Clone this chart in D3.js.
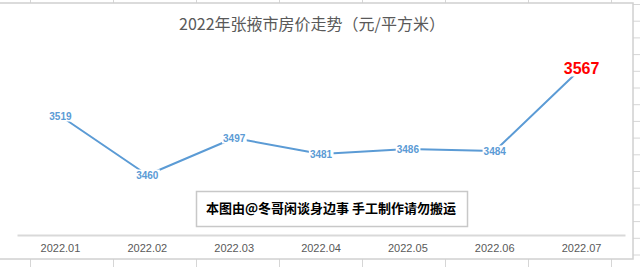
<!DOCTYPE html>
<html>
  <head>
    <title></title>
    <meta charset="UTF-8" />
    <script src="https://cdn.jsdelivr.net/npm/d3@7"></script>
    <style>
      body { margin: 0; background: #fff; }
      svg { display: block; }
    </style>
  </head>
  <body>
    <svg></svg>
    <script>
      // 数据
      const title = '2022年张掖市房价走势（元/平方米）'
      const months = ['2022.01', '2022.02', '2022.03', '2022.04', '2022.05', '2022.06', '2022.07']
      const prices = [3519, 3460, 3497, 3481, 3486, 3484, 3567]
      const note = '本图由@冬哥闲谈身边事 手工制作请勿搬运'

      // 1. 基本准备
      const width = 640
      const height = 267
      const chart = { left: -1, top: 3, right: 633, bottom: 259 }
      const cjk = '"Noto Sans CJK SC", "Noto Sans", sans-serif'
      const blue = '#5b9bd5'

      const svg = d3
        .select('svg')
        .attr('width', width)
        .attr('height', height)
        .attr('viewBox', [0, 0, width, height])

      // 2. 表格背景（Excel 网格）
      const grid = svg.append('g').attr('stroke', '#d6d6d6').attr('stroke-width', 1)
      grid
        .selectAll('line.v')
        .data(d3.range(8))
        .join('line')
        .attr('x1', (i) => 30.5 + i * 83)
        .attr('x2', (i) => 30.5 + i * 83)
        .attr('y1', 0)
        .attr('y2', height)
      grid
        .selectAll('line.h')
        .data(d3.range(17))
        .join('line')
        .attr('x1', 0)
        .attr('x2', width)
        .attr('y1', (i) => 4.5 + i * 16.7)
        .attr('y2', (i) => 4.5 + i * 16.7)

      // 图表区
      svg
        .append('rect')
        .attr('x', chart.left)
        .attr('y', chart.top)
        .attr('width', chart.right - chart.left)
        .attr('height', chart.bottom - chart.top)
        .attr('fill', '#fff')
        .attr('stroke', '#d0d0d0')
        .attr('stroke-width', 1.5)

      // 3. 比例尺
      const x = d3.scaleBand(months, [17, 625])
      const y = d3.scaleLinear([3400, 3600], [235, 35])
      const cx = (d) => x(d) + x.bandwidth() / 2

      // 标题
      svg
        .append('text')
        .attr('x', 312)
        .attr('y', 23)
        .attr('text-anchor', 'middle')
        .attr('dominant-baseline', 'central')
        .attr('fill', '#595959')
        .style('font', `16px ${cjk}`)
        .text(title)

      // 4. x 轴
      svg
        .append('g')
        .attr('transform', `translate(0,235)`)
        .call(d3.axisBottom(x).tickSize(0).tickSizeOuter(0).tickPadding(9))
        .call((g) => g.select('.domain').attr('stroke', '#d9d9d9').attr('stroke-width', 2))
        .call((g) =>
          g
            .selectAll('text')
            .attr('fill', '#595959')
            .style('font', '11px "Liberation Sans Narrow", "Liberation Sans", sans-serif')
        )

      // 水印框
      svg
        .append('rect')
        .attr('x', 196.5)
        .attr('y', 191.5)
        .attr('width', 271)
        .attr('height', 35)
        .attr('fill', '#fff')
        .attr('stroke', '#c8c8c8')
        .attr('stroke-width', 1.5)
      svg
        .append('text')
        .attr('x', 331)
        .attr('y', 207)
        .attr('text-anchor', 'middle')
        .attr('dominant-baseline', 'central')
        .attr('fill', '#000')
        .style('font', `bold 13px ${cjk}`)
        .text(note)

      // 5. 折线
      const data = months.map((m, i) => ({ m, v: prices[i] }))
      svg
        .append('path')
        .datum(data)
        .attr('fill', 'none')
        .attr('stroke', blue)
        .attr('stroke-width', 2)
        .attr('stroke-linejoin', 'round')
        .attr('d', d3.line().x((d) => cx(d.m)).y((d) => y(d.v)))

      // 数据标签（白底）
      const labels = svg
        .append('g')
        .selectAll('g')
        .data(data)
        .join('g')
        .attr('transform', (d) => `translate(${cx(d.m)},${y(d.v)})`)
      labels
        .append('text')
        .attr('text-anchor', 'middle')
        .attr('dominant-baseline', 'central')
        .attr('fill', (d, i) => (i === data.length - 1 ? '#ff0000' : blue))
        .style('font-family', '"Liberation Sans", sans-serif')
        .style('font-weight', 'bold')
        .style('font-size', (d, i) => (i === data.length - 1 ? '16px' : '10px'))
        .text((d) => d.v)
      labels.each(function () {
        const g = d3.select(this)
        const b = g.select('text').node().getBBox()
        g.insert('rect', 'text')
          .attr('x', b.x - 1)
          .attr('y', b.y)
          .attr('width', b.width + 2)
          .attr('height', b.height)
          .attr('fill', '#fff')
      })
    </script>
  </body>
</html>
